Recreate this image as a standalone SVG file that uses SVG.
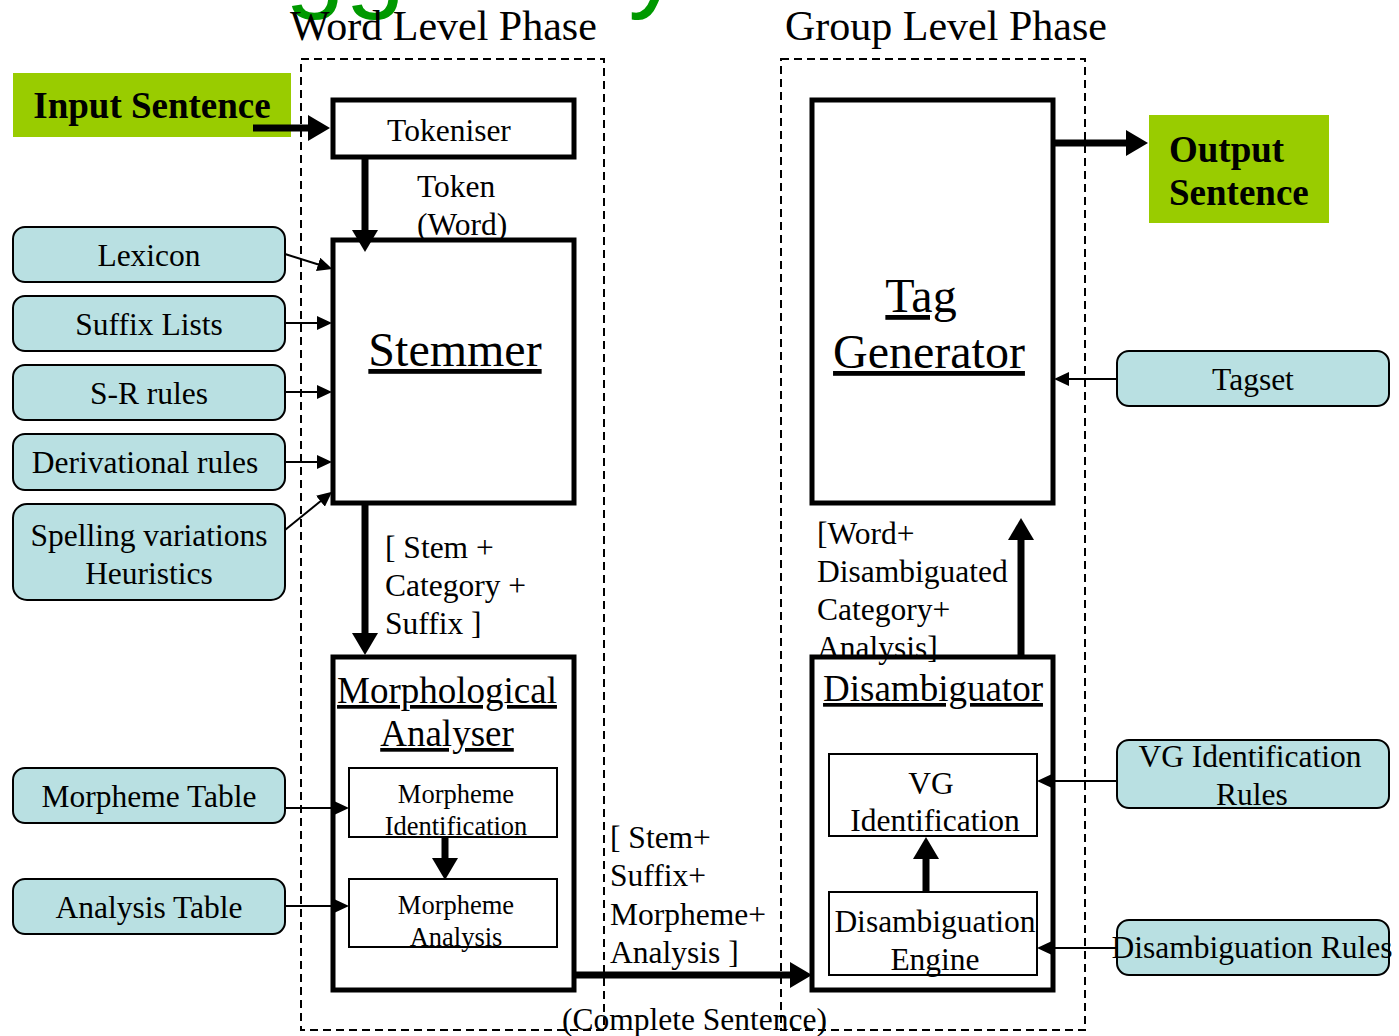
<svg xmlns="http://www.w3.org/2000/svg" width="1399" height="1036" viewBox="0 0 1399 1036">
  <style>
    text { font-family: "Liberation Serif", "Times New Roman", serif; fill: #000; }
    .title { font-family: "Liberation Sans", Arial, sans-serif; font-size: 108px; fill: #009900; word-spacing: 25px; }
    .phase { font-size: 42px; }
    .lbl { font-size: 31.5px; }
    .small { font-size: 26.5px; }
    .big { font-size: 48px; text-decoration: underline; }
    .mid { font-size: 37px; text-decoration: underline; }
    .bold { font-size: 37px; font-weight: bold; }
    .mid-anchor { text-anchor: middle; }
    .phase-box { fill: none; stroke: #000; stroke-width: 2; stroke-dasharray: 8 5; }
    .proc { fill: #fff; stroke: #000; stroke-width: 5; }
    .sub { fill: #fff; stroke: #000; stroke-width: 2; }
    .res { fill: #B9E0E2; stroke: #000; stroke-width: 2; }
    .io { fill: #99CC00; }
    .thin { stroke: #000; stroke-width: 2; fill: none; }
    .thick { stroke: #000; stroke-width: 7; fill: none; }
  </style>
  <defs>
    <marker id="head-thick" markerUnits="userSpaceOnUse" markerWidth="22" markerHeight="26" refX="4" refY="13" orient="auto">
      <path d="M0,0 L22,13 L0,26 z" fill="#000"/>
    </marker>
    <marker id="head-thin" markerUnits="userSpaceOnUse" markerWidth="15" markerHeight="14" refX="2" refY="7" orient="auto">
      <path d="M0,0 L15,7 L0,14 z" fill="#000"/>
    </marker>
  </defs>

  <rect width="1399" height="1036" fill="#fff"/>

  <!-- slide title, mostly above the top edge -->
  <text class="title" x="171" y="-2">Tagger System Architecture</text>

  <!-- phase frames -->
  <g id="word-level-phase">
    <rect class="phase-box" x="301" y="59" width="303" height="971"/>
    <text class="phase" x="290" y="40">Word Level Phase</text>
  </g>
  <g id="group-level-phase">
    <rect class="phase-box" x="781" y="59" width="304" height="971"/>
    <text class="phase" x="785" y="40">Group Level Phase</text>
  </g>

  <!-- input / output -->
  <g id="input-sentence">
    <rect class="io" x="13" y="73" width="278" height="64"/>
    <text class="bold" x="152" y="118" text-anchor="middle">Input Sentence</text>
  </g>
  <g id="output-sentence">
    <rect class="io" x="1149" y="115" width="180" height="108"/>
    <text class="bold" x="1169" y="162">Output</text>
    <text class="bold" x="1169" y="205">Sentence</text>
  </g>

  <!-- word level processes -->
  <g id="tokeniser">
    <rect class="proc" x="333" y="100" width="241" height="57"/>
    <text class="lbl mid-anchor" x="449" y="141">Tokeniser</text>
  </g>
  <g id="stemmer">
    <rect class="proc" x="333" y="240" width="241" height="263"/>
    <text class="big mid-anchor" x="455" y="366">Stemmer</text>
  </g>
  <g id="morphological-analyser">
    <rect class="proc" x="333" y="657" width="241" height="333"/>
    <text class="mid mid-anchor" x="447" y="703">Morphological</text>
    <text class="mid mid-anchor" x="447" y="746">Analyser</text>
  </g>
  <g id="morpheme-identification">
    <rect class="sub" x="349" y="768" width="208" height="69"/>
    <text class="small mid-anchor" x="456" y="803">Morpheme</text>
    <text class="small mid-anchor" x="456" y="835">Identification</text>
  </g>
  <g id="morpheme-analysis">
    <rect class="sub" x="349" y="879" width="208" height="68"/>
    <text class="small mid-anchor" x="456" y="914">Morpheme</text>
    <text class="small mid-anchor" x="456" y="946">Analysis</text>
  </g>

  <!-- group level processes -->
  <g id="tag-generator">
    <rect class="proc" x="812" y="100" width="241" height="403"/>
    <text class="big mid-anchor" x="921" y="312">Tag</text>
    <text class="big mid-anchor" x="929" y="368">Generator</text>
  </g>
  <g id="disambiguator">
    <rect class="proc" x="812" y="657" width="241" height="333"/>
    <text class="mid mid-anchor" x="933" y="701">Disambiguator</text>
  </g>
  <g id="vg-identification">
    <rect class="sub" x="829" y="754" width="208" height="82"/>
    <text class="lbl mid-anchor" x="931" y="794">VG</text>
    <text class="lbl mid-anchor" x="935" y="831">Identification</text>
  </g>
  <g id="disambiguation-engine">
    <rect class="sub" x="829" y="892" width="208" height="83"/>
    <text class="lbl mid-anchor" x="935" y="932">Disambiguation</text>
    <text class="lbl mid-anchor" x="935" y="970">Engine</text>
  </g>

  <!-- resources -->
  <g id="lexicon">
    <rect class="res" x="13" y="227" width="272" height="55" rx="12"/>
    <text class="lbl mid-anchor" x="149" y="266">Lexicon</text>
  </g>
  <g id="suffix-lists">
    <rect class="res" x="13" y="296" width="272" height="55" rx="12"/>
    <text class="lbl mid-anchor" x="149" y="335">Suffix Lists</text>
  </g>
  <g id="sr-rules">
    <rect class="res" x="13" y="365" width="272" height="55" rx="12"/>
    <text class="lbl mid-anchor" x="149" y="404">S-R rules</text>
  </g>
  <g id="derivational-rules">
    <rect class="res" x="13" y="434" width="272" height="56" rx="12"/>
    <text class="lbl mid-anchor" x="145" y="473">Derivational rules</text>
  </g>
  <g id="spelling-variations">
    <rect class="res" x="13" y="504" width="272" height="96" rx="14"/>
    <text class="lbl mid-anchor" x="149" y="546">Spelling variations</text>
    <text class="lbl mid-anchor" x="149" y="584">Heuristics</text>
  </g>
  <g id="morpheme-table">
    <rect class="res" x="13" y="768" width="272" height="55" rx="12"/>
    <text class="lbl mid-anchor" x="149" y="807">Morpheme Table</text>
  </g>
  <g id="analysis-table">
    <rect class="res" x="13" y="879" width="272" height="55" rx="12"/>
    <text class="lbl mid-anchor" x="149" y="918">Analysis Table</text>
  </g>
  <g id="tagset">
    <rect class="res" x="1117" y="351" width="272" height="55" rx="12"/>
    <text class="lbl mid-anchor" x="1253" y="390">Tagset</text>
  </g>
  <g id="vg-identification-rules">
    <rect class="res" x="1117" y="740" width="272" height="68" rx="12"/>
    <text class="lbl mid-anchor" x="1250" y="767">VG Identification</text>
    <text class="lbl mid-anchor" x="1252" y="805">Rules</text>
  </g>
  <g id="disambiguation-rules">
    <rect class="res" x="1117" y="920" width="272" height="55" rx="12"/>
    <text class="lbl mid-anchor" x="1252" y="958">Disambiguation Rules</text>
  </g>

  <!-- connectors -->
  <g id="connectors">
    <line class="thick" x1="253" y1="128" x2="312" y2="128" marker-end="url(#head-thick)"/>
    <line class="thick" x1="365" y1="157" x2="365" y2="234" marker-end="url(#head-thick)"/>
    <line class="thick" x1="365" y1="503" x2="365" y2="637" marker-end="url(#head-thick)"/>
    <line class="thick" x1="445" y1="837" x2="445" y2="862" marker-end="url(#head-thick)"/>
    <line class="thick" x1="574" y1="975" x2="794" y2="975" marker-end="url(#head-thick)"/>
    <line class="thick" x1="926" y1="892" x2="926" y2="855" marker-end="url(#head-thick)"/>
    <line class="thick" x1="1021" y1="657" x2="1021" y2="536" marker-end="url(#head-thick)"/>
    <line class="thick" x1="1053" y1="143" x2="1130" y2="143" marker-end="url(#head-thick)"/>

    <line class="thin" x1="285" y1="254" x2="320" y2="265" marker-end="url(#head-thin)"/>
    <line class="thin" x1="285" y1="323" x2="319" y2="323" marker-end="url(#head-thin)"/>
    <line class="thin" x1="285" y1="392" x2="319" y2="392" marker-end="url(#head-thin)"/>
    <line class="thin" x1="285" y1="462" x2="319" y2="462" marker-end="url(#head-thin)"/>
    <line class="thin" x1="285" y1="530" x2="322" y2="500" marker-end="url(#head-thin)"/>
    <line class="thin" x1="285" y1="808" x2="336" y2="808" marker-end="url(#head-thin)"/>
    <line class="thin" x1="285" y1="906" x2="336" y2="906" marker-end="url(#head-thin)"/>
    <line class="thin" x1="1117" y1="379" x2="1067" y2="379" marker-end="url(#head-thin)"/>
    <line class="thin" x1="1117" y1="781" x2="1050" y2="781" marker-end="url(#head-thin)"/>
    <line class="thin" x1="1117" y1="948" x2="1050" y2="948" stroke-width="3" marker-end="url(#head-thin)"/>
  </g>

  <!-- connector labels -->
  <g id="connector-labels">
    <text class="lbl" x="417" y="197">Token</text>
    <text class="lbl" x="417" y="235">(Word)</text>
    <text class="lbl" x="385" y="558">[ Stem +</text>
    <text class="lbl" x="385" y="596">Category +</text>
    <text class="lbl" x="385" y="634">Suffix ]</text>
    <text class="lbl" x="610" y="848">[ Stem+</text>
    <text class="lbl" x="610" y="886">Suffix+</text>
    <text class="lbl" x="610" y="925">Morpheme+</text>
    <text class="lbl" x="610" y="963">Analysis ]</text>
    <text class="lbl" x="562" y="1030">(Complete Sentence)</text>
    <text class="lbl" x="817" y="544">[Word+</text>
    <text class="lbl" x="817" y="582">Disambiguated</text>
    <text class="lbl" x="817" y="620">Category+</text>
    <text class="lbl" x="817" y="658">Analysis]</text>
  </g>
</svg>
